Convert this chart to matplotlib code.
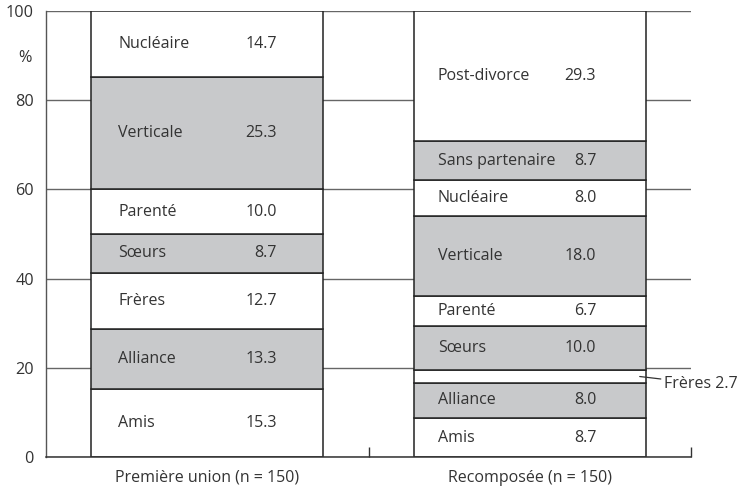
import matplotlib
matplotlib.use("Agg")
import matplotlib.pyplot as plt

plt.rcParams.update({"font.family": ["Open Sans", "DejaVu Sans"], "font.size": 11.5})

groups = ["Première union (n = 150)", "Recomposée (n = 150)"]

# segments from bottom to top
labels_1 = ["Amis", "Alliance", "Frères", "Sœurs", "Parenté", "Verticale", "Nucléaire"]
values_1 = [15.3, 13.3, 12.7, 8.7, 10.0, 25.3, 14.7]
shaded_1 = [False, True, False, True, False, True, False]

labels_2 = ["Amis", "Alliance", "Frères", "Sœurs", "Parenté", "Verticale",
            "Nucléaire", "Sans partenaire", "Post-divorce"]
values_2 = [8.7, 8.0, 2.7, 10.0, 6.7, 18.0, 8.0, 8.7, 29.3]
shaded_2 = [False, True, False, True, False, True, False, True, False]

yticks = [0, 20, 40, 60, 80, 100]

GRAY = "#c8c9cb"
TXT = "#333333"

fig = plt.figure(figsize=(7.43, 4.93), dpi=100)
ax = fig.add_axes([0.0615, 0.073, 0.869, 0.9047])

bar_x = [0.5, 1.5]
width = 0.72
label_x = [0.225, 1.215]
value_x = [0.716, 1.705]

series = [(labels_1, values_1, shaded_1), (labels_2, values_2, shaded_2)]
for i, (labs, vals, sh) in enumerate(series):
    bottom = 0.0
    for lab, v, s in zip(labs, vals, sh):
        ax.bar(bar_x[i], v, width=width, bottom=bottom,
               color=GRAY if s else "white", edgecolor="#222222",
               linewidth=1.1, zorder=2)
        mid = bottom + v / 2
        if v >= 5:
            ax.text(label_x[i], mid, lab, ha="left", va="center", color=TXT, zorder=3)
            ax.text(value_x[i], mid, f"{v:.1f}", ha="right", va="center", color=TXT, zorder=3)
        else:
            ax.annotate(f"{lab} {v:.1f}", xy=(bar_x[i] + width / 2 - 0.02, mid),
                        xytext=(1.914, mid - 1.6), ha="left", va="center", color=TXT,
                        arrowprops=dict(arrowstyle="-", color="#333333", lw=0.9,
                                        shrinkA=0, shrinkB=0),
                        annotation_clip=False, zorder=3)
        bottom += v

ax.set_xlim(0, 2)
ax.set_ylim(0, 100)
ax.set_yticks(yticks)
ax.tick_params(axis="y", length=0, pad=8.5, labelsize=11.7, labelcolor=TXT)
ax.yaxis.grid(True, color="#666666", lw=1.0)
ax.set_axisbelow(True)

ax.set_xticks([1, 2])
ax.set_xticklabels([])
ax.tick_params(axis="x", which="major", direction="in", length=7, color="#333333", width=1)
ax.set_xticks(bar_x, minor=True)
ax.set_xticklabels(groups, minor=True)
ax.tick_params(axis="x", which="minor", length=0, pad=9, labelsize=11.5, labelcolor=TXT)

ax.text(-0.064, 89.5, "%", ha="center", va="center", color=TXT, fontsize=11.7)

for side in ["top", "right"]:
    ax.spines[side].set_visible(False)
ax.spines["left"].set_color("#555555")
ax.spines["bottom"].set_color("#333333")
ax.spines["left"].set_linewidth(1.0)
ax.spines["bottom"].set_linewidth(1.1)

fig.savefig("out.png", dpi=100)
